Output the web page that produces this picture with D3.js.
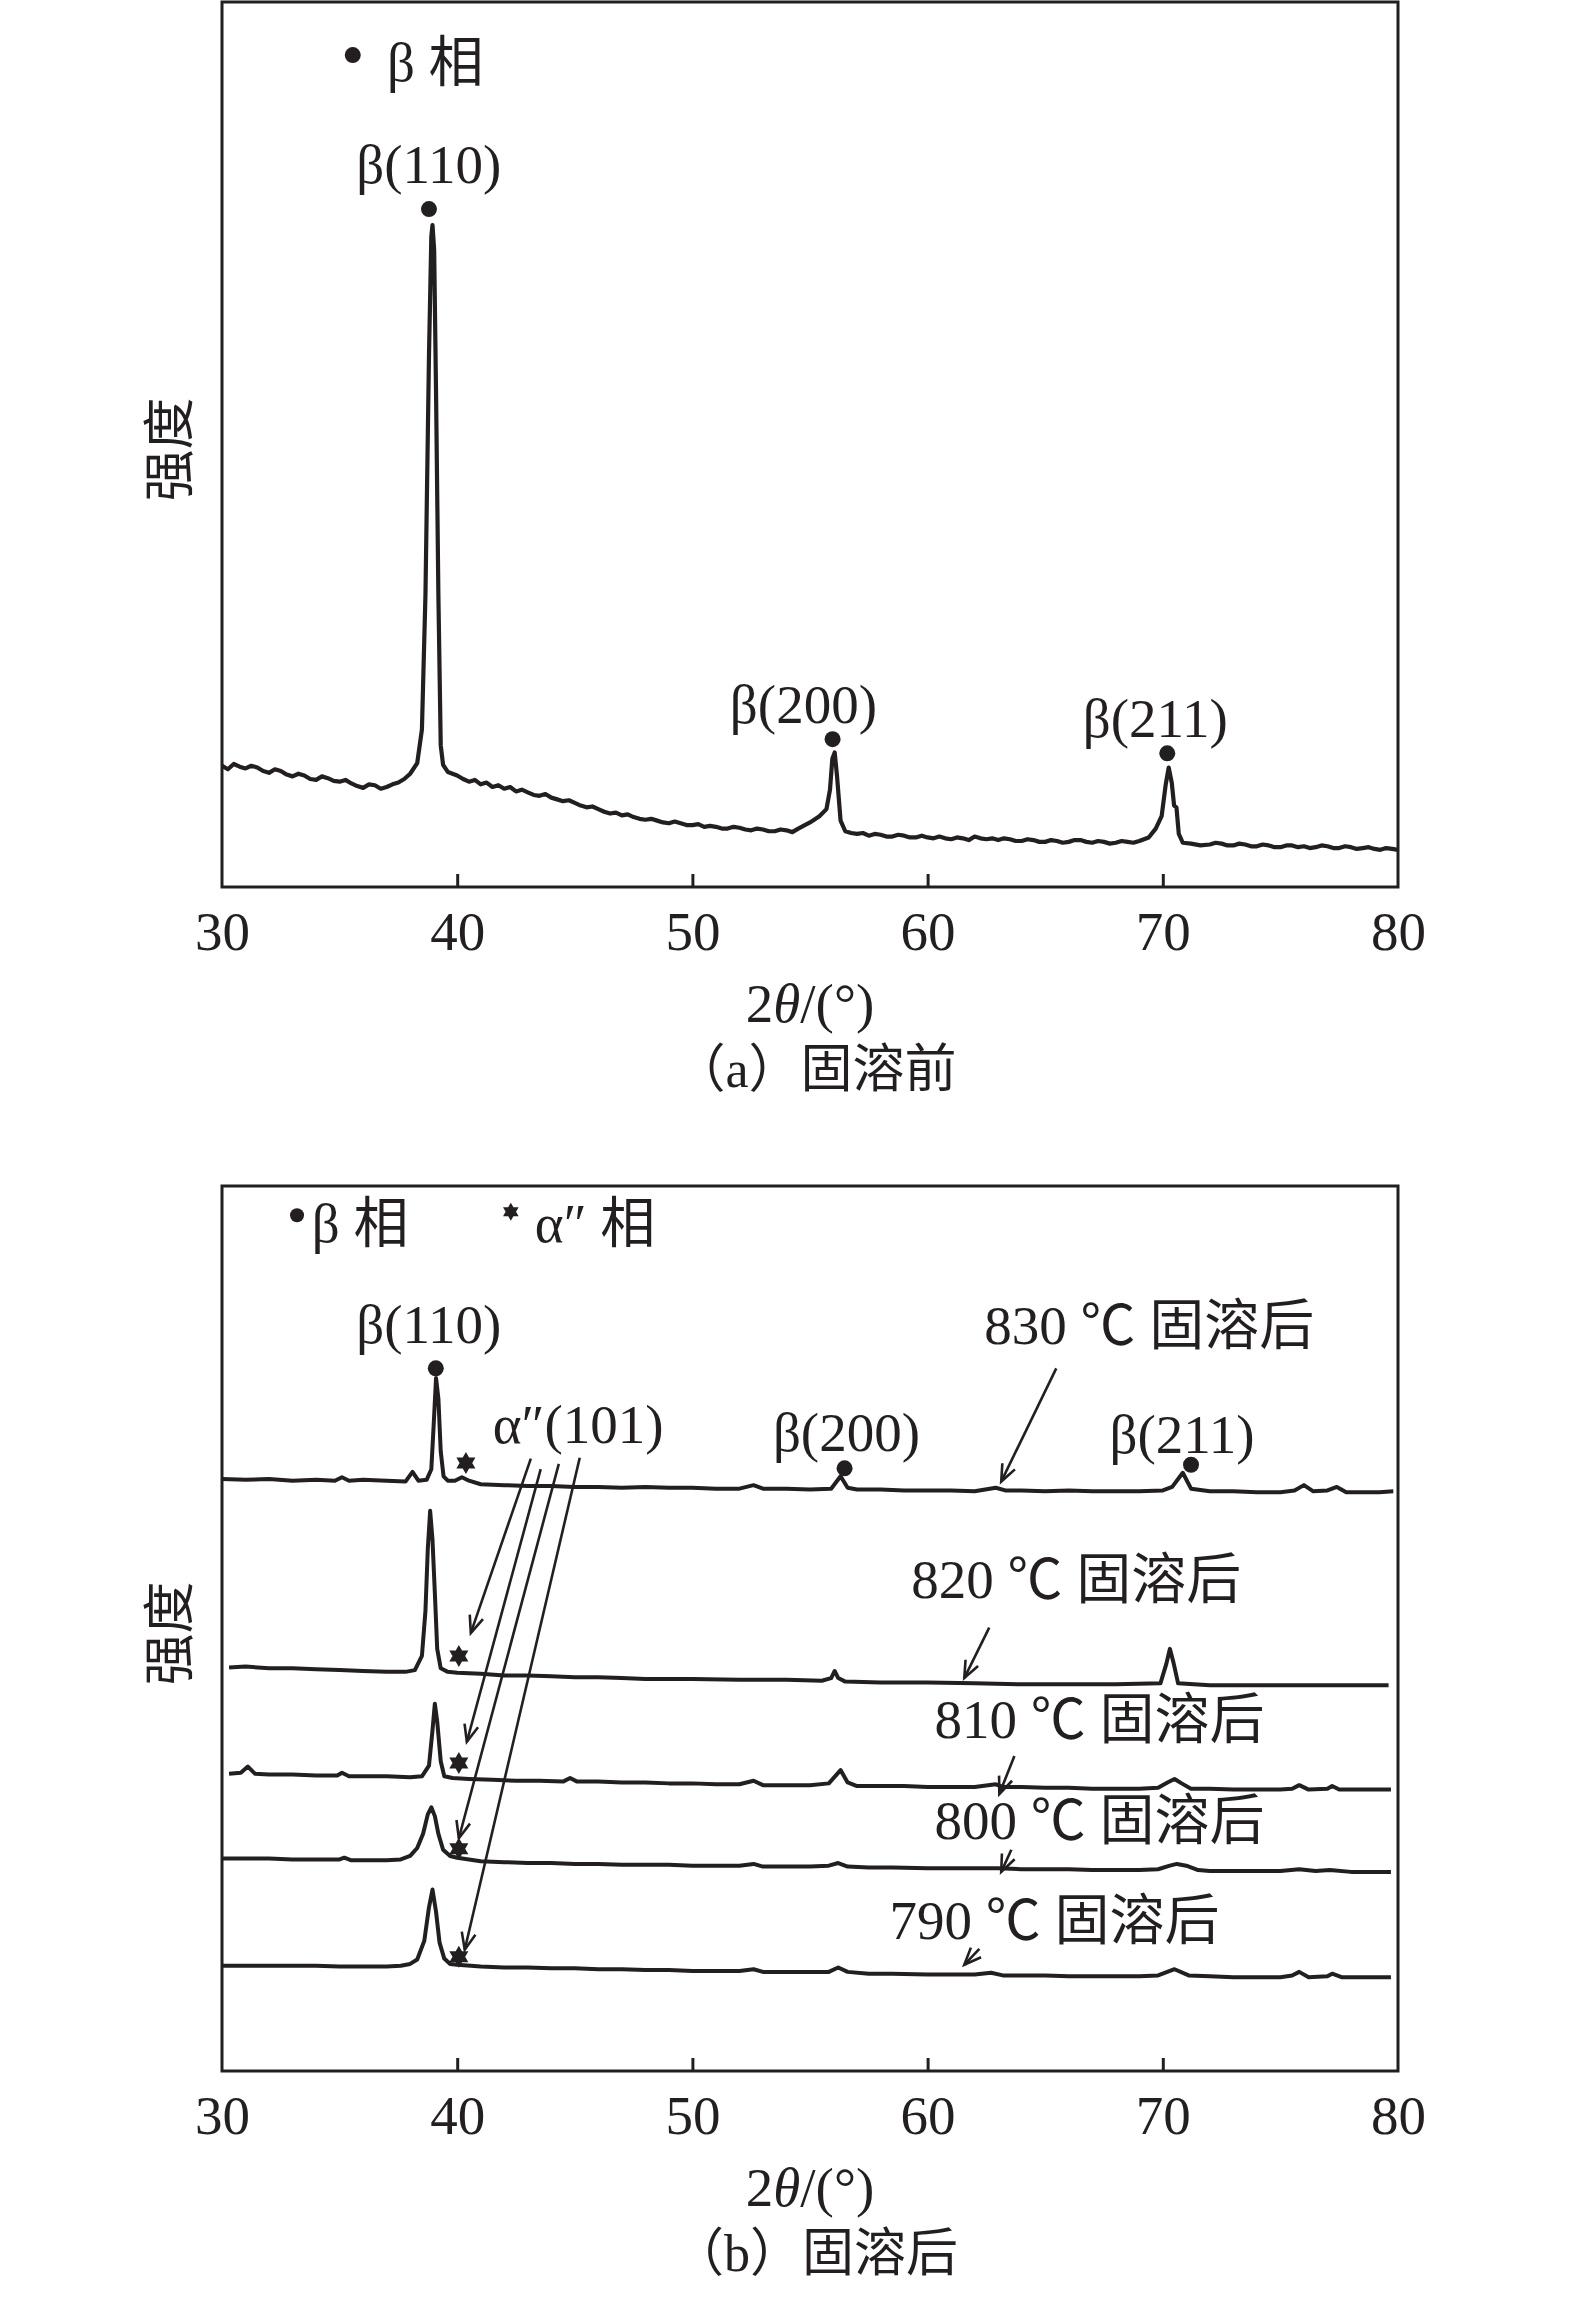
<!DOCTYPE html>
<html>
<head>
<meta charset="utf-8">
<script src="https://cdn.jsdelivr.net/npm/d3@7/dist/d3.min.js"></script>
<style>
  body { margin: 0; background: #fff; }
  text { font-family: "Liberation Serif", "Times New Roman", "Noto Sans CJK SC", serif; fill: #231f20; }
</style>
</head>
<body>
<div id="chart"></div>
<script>
// 2θ ticks
var xTicks = [30, 40, 50, 60, 70, 80];

// (a) before solution treatment : [2θ, intensity]
var xrdA = [[30,137],[30.25,133],[30.5,139],[30.75,136],[31,134],[31.25,137],[31.5,135],[31.75,131],[32,129],[32.25,133],
  [32.5,131],[32.75,127],[33,125],[33.25,128],[33.5,126],[33.75,122],[34,121],[34.25,125],[34.5,123],[34.75,120],
  [35,119],[35.25,121],[35.5,117],[35.75,114],[36,112],[36.25,116],[36.5,115],[36.75,111],[37,113],[37.25,116],
  [37.5,118],[37.75,122],[38,128],[38.3,140],[38.5,178],[38.65,330],[38.8,600],[38.9,735],[38.95,748],[39.02,720],
  [39.1,560],[39.2,330],[39.3,160],[39.4,138],[39.6,130],[40,126],[40.25,122],[40.5,119],[40.75,121],[41,116],
  [41.25,118],[41.5,113],[41.75,115],[42,111],[42.25,113],[42.5,108],[42.75,110],[43,107],[43.25,104],[43.5,103],
  [43.75,105],[44,101],[44.25,99],[44.5,97],[44.75,98],[45,95],[45.25,92],[45.5,90],[45.75,91],[46,88],
  [46.25,85],[46.5,83],[46.75,84],[47,81],[47.25,82],[47.5,79],[47.75,77],[48,76],[48.25,77],[48.5,75],
  [48.75,73],[49,72],[49.25,74],[49.5,72],[49.75,70],[50,70],[50.25,71],[50.5,68],[50.75,69],[51,68],
  [51.25,66],[51.5,66],[51.75,68],[52,67],[52.25,65],[52.5,64],[52.75,66],[53,65],[53.25,63],[53.5,63],
  [53.75,65],[54,64],[54.25,62],[54.5,66],[55,73],[55.4,80],[55.7,88],[55.85,110],[55.95,145],[56.05,152],
  [56.15,125],[56.3,75],[56.5,63],[56.75,61],[57,60],[57.25,61],[57.5,58],[57.75,60],[58,59],[58.25,57],
  [58.5,57],[58.75,59],[59,58],[59.25,56],[59.5,56],[59.75,58],[60,56],[60.25,55],[60.5,57],[60.75,55],
  [61,54],[61.25,56],[61.5,55],[61.75,53],[62,57],[62.25,55],[62.5,54],[62.75,55],[63,53],[63.25,55],
  [63.5,54],[63.75,52],[64,52],[64.25,54],[64.5,53],[64.75,51],[65,51],[65.25,53],[65.5,52],[65.75,50],
  [66,51],[66.25,53],[66.5,53],[66.75,51],[67,50],[67.25,52],[67.5,51],[67.75,49],[68,50],[68.25,52],
  [68.5,51],[68.75,50],[69,52],[69.4,56],[69.7,66],[69.95,80],[70.12,115],[70.25,135],[70.38,118],[70.48,92],
  [70.58,90],[70.68,60],[70.85,50],[71.2,49],[71.6,47],[72,48],[72.25,50],[72.5,49],[72.75,47],[73,47],
  [73.25,49],[73.5,48],[73.75,46],[74,46],[74.25,48],[74.5,47],[74.75,45],[75,45],[75.25,47],[75.5,47],
  [75.75,45],[76,46],[76.25,44],[76.5,45],[76.75,47],[77,46],[77.25,44],[77.5,44],[77.75,46],[78,45],
  [78.25,43],[78.5,44],[78.75,45],[79,43],[79.25,42],[79.5,44],[79.75,43],[80,42]];

// (b) after solution treatment, stacked patterns : [2θ, intensity]
var xrd830 = [[30,669],[31,668],[32,669],[33,667],[34,668],[34.8,667],[35.1,671],[35.4,667],[36,668],[37,667],
  [37.8,666],[38.1,677],[38.35,667],[38.7,668],[38.9,680],[39,730],[39.1,783],[39.2,760],[39.3,700],[39.42,672],
  [39.6,667],[39.9,667],[40.2,671],[40.5,667],[41,663],[42,662],[43,661],[44,661],[45,660],[46,660],
  [47,659],[48,660],[49,659],[50,659],[51,658],[52,658],[52.6,662],[53,658],[54,658],[55,657],
  [55.9,658],[56.3,672],[56.6,659],[57,657],[58,657],[59,656],[60,656],[61,656],[62,655],[62.9,659],
  [63.3,656],[64,656],[65,655],[66,656],[67,655],[68,655],[69,655],[70,656],[70.4,660],[70.85,676],
  [71.2,658],[72,655],[73,655],[74,654],[75,654],[75.6,656],[76,662],[76.4,655],[77,656],[77.4,660],
  [77.8,654],[78.5,654],[79.2,654],[79.8,655]];
var xrd820 = [[30.3,456],[31,457],[32,455],[33,455],[34,454],[35,453],[36,452],[37,451],[37.8,451],[38.2,453],
  [38.5,469],[38.65,520],[38.75,590],[38.85,633],[38.95,600],[39.05,540],[39.15,477],[39.3,455],[39.6,451],[40,450],
  [41,449],[42,447],[43,447],[44,446],[45,445],[46,445],[47,444],[48,443],[50,443],[52,442],
  [54,442],[55.5,441],[55.9,444],[56.05,452],[56.2,444],[56.5,440],[58,439],[60,439],[62,438],[64,437],
  [66,437],[68,437],[69.9,438],[70.15,460],[70.3,477],[70.45,462],[70.65,438],[72,436],[74,436],[76,436],
  [78,436],[79.6,436]];
var xrd810 = [[30.3,336],[30.8,337],[31.1,344],[31.4,336],[32,335],[33,335],[34,334],[34.9,334],[35.1,337],[35.4,333],
  [36,333],[37,333],[38,332],[38.5,333],[38.8,345],[38.95,385],[39.05,415],[39.15,395],[39.3,350],[39.45,333],
  [39.8,331],[40.5,330],[41.5,329],[42.5,328],[43.5,328],[44.5,327],[44.8,331],[45.1,327],[46,327],[47,326],
  [48,326],[49,325],[50,325],[51,324],[52,324],[52.6,328],[53,323],[54,323],[55,323],[55.8,325],
  [56.3,340],[56.6,326],[57,322],[58,322],[59,322],[60,321],[61,321],[62,321],[62.9,324],[63.2,321],
  [64,321],[65,320],[66,320],[67,319],[68,319],[69,319],[69.8,320],[70.2,326],[70.5,330],[70.8,325],
  [71.2,319],[72,319],[73,318],[74,318],[75,318],[75.5,319],[75.8,323],[76.2,318],[77,319],[77.2,322],
  [77.5,318],[78,318],[79,318],[79.7,318]];
var xrd800 = [[30,240],[31,240],[32,240],[33,239],[34,239],[35,239],[35.2,241],[35.5,238],[36,238],[37,238],
  [37.6,239],[38,243],[38.3,252],[38.55,268],[38.75,290],[38.9,298],[39.05,288],[39.2,268],[39.4,250],[39.7,243],
  [40,241],[40.5,239],[41,237],[42,236],[43,235],[44,235],[45,234],[46,234],[47,233],[48,233],
  [49,233],[50,232],[51,232],[52,232],[52.6,234],[53,231],[54,231],[55,231],[55.8,232],[56.2,235],
  [56.6,231],[57.5,230],[58.5,230],[60,229],[61,229],[62,229],[63,229],[64,228],[65,228],[66,228],
  [67,227],[68,227],[69,227],[69.8,228],[70.3,232],[70.6,234],[71,232],[71.5,227],[72,226],[73,226],
  [74,226],[75,226],[75.8,228],[76.5,226],[77.1,227],[78,225],[79,225],[79.7,225]];
var xrd790 = [[30,119],[31,119],[32,119],[33,119],[34,119],[35,118],[36,118],[37,118],[37.6,119],[38,121],
  [38.3,126],[38.6,147],[38.8,185],[38.95,205],[39.1,180],[39.25,145],[39.45,127],[39.7,121],[40,120],[41,118],
  [42,117],[43,117],[44,116],[45,116],[46,115],[47,115],[48,114],[49,114],[50,113],[51,113],
  [52,113],[52.6,115],[53,112],[54,112],[55,112],[55.8,112],[56.2,117],[56.6,112],[57.5,110],[58.5,110],
  [60,109],[61,109],[62,109],[62.7,111],[63.2,108],[64,108],[65,108],[66,107],[67,107],[68,107],
  [69,107],[69.8,108],[70.5,115],[71.1,108],[72,107],[73,106],[74,106],[75,106],[75.5,108],[75.8,112],
  [76.2,106],[77,107],[77.2,110],[77.6,106],[78.5,106],[79.7,106]];
var seriesB = [xrd830, xrd820, xrd810, xrd800, xrd790];

// annotations in data units [2θ, intensity]
var peakLabelsA = [
  {t: "β(110)", x: 38.79, y: 796, dot: [38.8, 766]},
  {t: "β(200)", x: 54.72, y: 185, dot: [55.96, 167]},
  {t: "β(211)", x: 69.68, y: 170, dot: [70.19, 151]}
];
var peakLabelsB = [
  {t: "β(110)", x: 38.79, y: 823, dot: [39.09, 794]},
  {t: "β(200)", x: 56.55, y: 701, dot: [56.47, 681]},
  {t: "β(211)", x: 70.82, y: 698, dot: [71.2, 685]}
];
var alphaStars = [[40.37, 687], [40.07, 469], [40.07, 348], [40.07, 251], [40.07, 129]];
var alphaArrows = [
  [[43.13, 692], [40.58, 495]],
  [[43.55, 680], [40.41, 372]],
  [[44.32, 686], [40.07, 263]],
  [[45.21, 693], [40.32, 137]]
];
var tempLabels = ["830 ℃ 固溶后", "820 ℃ 固溶后", "810 ℃ 固溶后", "800 ℃ 固溶后", "790 ℃ 固溶后"];
var tempLabelPos = [[62.41, 821], [59.31, 534], [60.29, 376], [60.29, 262], [58.38, 149]];
var tempArrows = [
  [[65.47, 794], [63.13, 666]],
  [[62.62, 501], [61.56, 444]],
  [[63.69, 356], [63.05, 313]],
  [[63.56, 250], [63.13, 225]],
  [[62.2, 138], [61.56, 120]]
];

var W = 1575, H = 2298, FS = 55;
var svg = d3.select("#chart").append("svg").attr("width", W).attr("height", H);

var defs = svg.append("defs");
defs.append("marker").attr("id", "arr")
  .attr("markerUnits", "userSpaceOnUse").attr("markerWidth", 40).attr("markerHeight", 40)
  .attr("refX", 0).attr("refY", 0).attr("viewBox", "-20 -20 40 40").attr("orient", "auto")
  .append("path").attr("d", "M-17,-7L0,0L-17,7")
  .attr("fill", "none").attr("stroke", "#231f20").attr("stroke-width", 2.6);

var x = d3.scaleLinear().domain([30, 80]).range([222, 1398]);

function hexagram(r) {
  var p = function (a) { return [r * Math.cos(a * Math.PI / 180), r * Math.sin(a * Math.PI / 180)]; };
  var up = [-90, 30, 150].map(p), dn = [90, 210, 330].map(p);
  return "M" + up.join("L") + "Z M" + dn.join("L") + "Z";
}

function panel(top, bottom, caption) {
  var y = d3.scaleLinear().domain([0, 1000]).range([bottom, top]);
  var g = svg.append("g");
  g.append("rect").attr("x", x(30)).attr("y", top).attr("width", x(80) - x(30)).attr("height", bottom - top)
    .attr("fill", "none").attr("stroke", "#231f20").attr("stroke-width", 3);
  var axis = d3.axisBottom(x).tickValues(xTicks).tickSize(-13).tickPadding(24).tickFormat(d3.format("d"));
  var ax = g.append("g").attr("transform", "translate(0," + bottom + ")").call(axis);
  ax.select(".domain").remove();
  ax.selectAll(".tick line").attr("stroke", "#231f20").attr("stroke-width", 3)
    .filter(function (d) { return d === 30 || d === 80; }).remove();
  ax.selectAll(".tick text").attr("font-size", 55).attr("fill", "#231f20")
    .attr("font-family", "Liberation Serif").attr("dy", "0.71em");
  var xt = g.append("text").attr("x", (x(30) + x(80)) / 2).attr("y", bottom + 135)
    .attr("text-anchor", "middle").attr("font-size", FS);
  xt.append("tspan").text("2");
  xt.append("tspan").attr("font-style", "italic").text("θ");
  xt.append("tspan").text("/(°)");
  g.append("text").attr("x", (x(30) + x(80)) / 2 + 5).attr("y", bottom + 200)
    .attr("text-anchor", "middle").attr("font-size", 52).text(caption);
  g.append("text").attr("transform", "translate(170," + ((top + bottom) / 2 + 5) + ") rotate(-90)")
    .attr("text-anchor", "middle").attr("dominant-baseline", "central")
    .attr("font-size", 52).attr("font-family", "Noto Sans CJK SC").text("强度");
  return {g: g, y: y};
}

var line = function (y) {
  return d3.line().x(function (d) { return x(d[0]); }).y(function (d) { return y(d[1]); });
};

// ---- panel (a)
var pa = panel(2, 887, "（a）固溶前");
pa.g.append("path").datum(xrdA).attr("d", line(pa.y))
  .attr("fill", "none").attr("stroke", "#231f20").attr("stroke-width", 4.2).attr("stroke-linejoin", "round");
pa.g.append("circle").attr("cx", x(35.56)).attr("cy", pa.y(940)).attr("r", 8).attr("fill", "#231f20");
pa.g.append("text").attr("x", x(37.01)).attr("y", pa.y(911)).attr("font-size", FS).text("β 相");
peakLabelsA.forEach(function (d) {
  pa.g.append("text").attr("x", x(d.x)).attr("y", pa.y(d.y)).attr("text-anchor", "middle")
    .attr("font-size", FS).text(d.t);
  pa.g.append("circle").attr("cx", x(d.dot[0])).attr("cy", pa.y(d.dot[1])).attr("r", 8).attr("fill", "#231f20");
});

// ---- panel (b)
var pb = panel(1186, 2071, "（b）固溶后");
pb.g.selectAll("path.xrd").data(seriesB).enter().append("path").attr("class", "xrd")
  .attr("d", line(pb.y))
  .attr("fill", "none").attr("stroke", "#231f20").attr("stroke-width", 4).attr("stroke-linejoin", "round");

pb.g.append("circle").attr("cx", x(33.19)).attr("cy", pb.y(967)).attr("r", 7).attr("fill", "#231f20");
pb.g.append("text").attr("x", x(33.82)).attr("y", pb.y(937)).attr("font-size", FS).text("β 相");
pb.g.append("path").attr("d", hexagram(9)).attr("fill", "#231f20")
  .attr("transform", "translate(" + x(42.28) + "," + pb.y(971) + ")");
pb.g.append("text").attr("x", x(43.3)).attr("y", pb.y(937)).attr("font-size", FS).text("α″ 相");

peakLabelsB.forEach(function (d) {
  pb.g.append("text").attr("x", x(d.x)).attr("y", pb.y(d.y)).attr("text-anchor", "middle")
    .attr("font-size", FS).text(d.t);
  pb.g.append("circle").attr("cx", x(d.dot[0])).attr("cy", pb.y(d.dot[1])).attr("r", 8).attr("fill", "#231f20");
});
pb.g.append("text").attr("x", x(41.51)).attr("y", pb.y(710)).attr("font-size", FS).text("α″(101)");

pb.g.selectAll("path.star").data(alphaStars).enter().append("path").attr("class", "star")
  .attr("d", hexagram(11)).attr("fill", "#231f20")
  .attr("transform", function (d) { return "translate(" + x(d[0]) + "," + pb.y(d[1]) + ")"; });

pb.g.selectAll("line.arr").data(alphaArrows.concat(tempArrows)).enter().append("line").attr("class", "arr")
  .attr("x1", function (d) { return x(d[0][0]); }).attr("y1", function (d) { return pb.y(d[0][1]); })
  .attr("x2", function (d) { return x(d[1][0]); }).attr("y2", function (d) { return pb.y(d[1][1]); })
  .attr("stroke", "#231f20").attr("stroke-width", 2.6).attr("marker-end", "url(#arr)");

pb.g.selectAll("text.temp").data(tempLabels).enter().append("text").attr("class", "temp")
  .attr("x", function (d, i) { return x(tempLabelPos[i][0]); })
  .attr("y", function (d, i) { return pb.y(tempLabelPos[i][1]); })
  .attr("font-size", FS).text(function (d) { return d; });
</script>
</body>
</html>
